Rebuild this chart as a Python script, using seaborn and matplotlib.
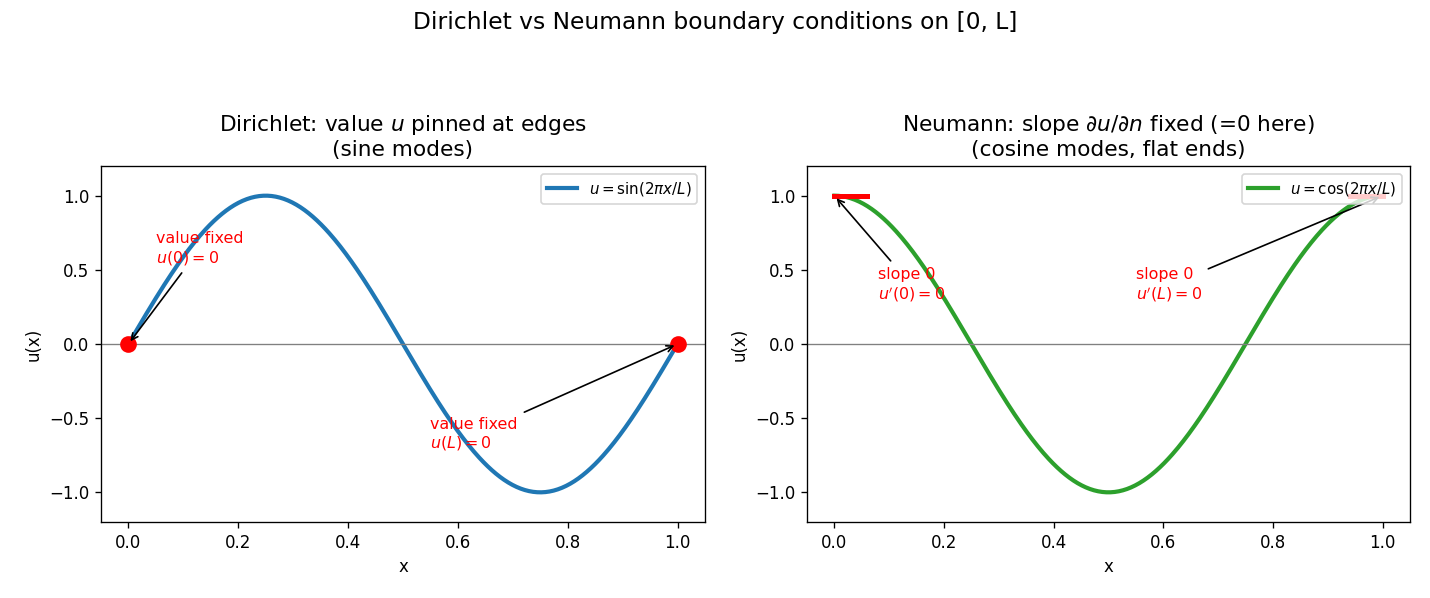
import numpy as np
import pandas as pd
import seaborn as sns
import matplotlib.pyplot as plt

# domain and mode
L = 1.0
mode = 2
n_points = 400
flat_len = 0.06

# annotation text
dir_labels = ["value fixed\n$u(0) = 0$", "value fixed\n$u(L) = 0$"]
neu_labels = ["slope 0\n$u'(0) = 0$", "slope 0\n$u'(L) = 0$"]

x = np.linspace(0, L, n_points)
df = pd.DataFrame({
    "x": x,
    "sin": np.sin(mode * np.pi * x / L),
    "cos": np.cos(mode * np.pi * x / L),
})

fig = plt.figure(figsize=(1430 / 120, 598 / 120), dpi=120)
ax1 = fig.add_axes([0.0706, 0.1271, 0.4224, 0.5953])
ax2 = fig.add_axes([0.5643, 0.1271, 0.4217, 0.5953])

# Dirichlet panel
sns.lineplot(data=df, x="x", y="sin", ax=ax1, color="#1f77b4", linewidth=2.5,
             label=r"$u=\sin(2\pi x/L)$")
ax1.axhline(0, color="gray", linewidth=0.8)
ax1.plot([0, L], [0, 0], "o", color="red", markersize=9)
ax1.annotate(dir_labels[0], xy=(0, 0), xytext=(0.05, 0.55), color="red", fontsize=9.5,
             arrowprops=dict(arrowstyle="->", color="black"))
ax1.annotate(dir_labels[1], xy=(L, 0), xytext=(0.55, -0.7), color="red", fontsize=9.5,
             arrowprops=dict(arrowstyle="->", color="black"))
ax1.set_title("Dirichlet: value $u$ pinned at edges\n(sine modes)", fontsize=13)
ax1.set_xlabel("x")
ax1.set_ylabel("u(x)")
ax1.set_ylim(-1.2, 1.2)
ax1.legend(loc="upper right", fontsize=9)

# Neumann panel
sns.lineplot(data=df, x="x", y="cos", ax=ax2, color="#2ca02c", linewidth=2.5,
             label=r"$u=\cos(2\pi x/L)$")
ax2.axhline(0, color="gray", linewidth=0.8)
ax2.plot([0, flat_len], [1, 1], color="red", linewidth=3)
ax2.plot([L - flat_len, L], [1, 1], color="red", linewidth=3)
ax2.annotate(neu_labels[0], xy=(0, 1), xytext=(0.08, 0.3), color="red", fontsize=9.5,
             arrowprops=dict(arrowstyle="->", color="black"))
ax2.annotate(neu_labels[1], xy=(L, 1), xytext=(0.55, 0.3), color="red", fontsize=9.5,
             arrowprops=dict(arrowstyle="->", color="black"))
ax2.set_title("Neumann: slope $\\partial u/\\partial n$ fixed (=0 here)\n(cosine modes, flat ends)",
              fontsize=13)
ax2.set_xlabel("x")
ax2.set_ylabel("u(x)")
ax2.set_ylim(-1.2, 1.2)
ax2.legend(loc="upper right", fontsize=9)

fig.suptitle("Dirichlet vs Neumann boundary conditions on [0, L]", y=0.963, va="center",
             fontsize=14)

plt.savefig("out.png", dpi=120)
plt.close()
